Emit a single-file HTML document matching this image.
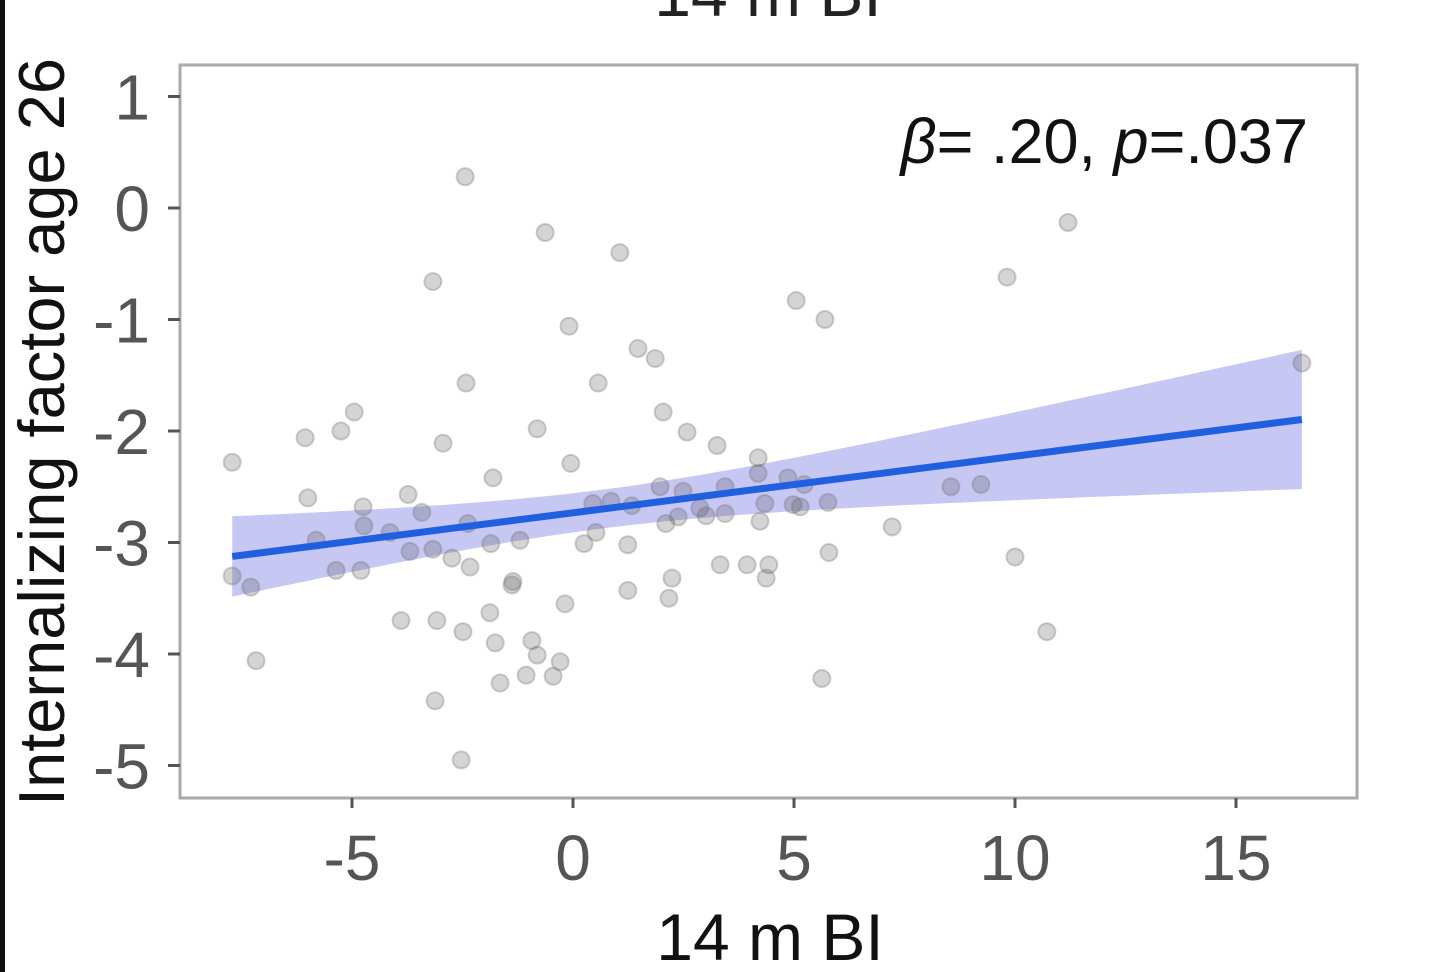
<!DOCTYPE html>
<html><head><meta charset="utf-8"><style>
html,body{margin:0;padding:0;background:#fff;}
svg{display:block;font-family:"Liberation Sans",sans-serif;}
</style></head><body>
<svg id="chart" width="1440" height="972" viewBox="0 0 1440 972">
<rect x="0" y="0" width="5" height="972" fill="#111"/>
<text x="768" y="16" font-size="66" text-anchor="middle" fill="#222">14 m BI</text>
<rect x="180" y="65" width="1177" height="733" fill="#fff" stroke="#aaa" stroke-width="3"/>
<g id="band"></g>
<g id="points"></g>
<g id="line"></g>
<g id="axes"></g>
<text x="1308" y="163" font-size="63" text-anchor="end" fill="#111"><tspan font-style="italic">β</tspan>= .20, <tspan font-style="italic">p</tspan>=.037</text>
<text x="770" y="960" font-size="66" text-anchor="middle" fill="#111">14 m BI</text>
<text transform="translate(64,432) rotate(-90)" font-size="65" text-anchor="middle" fill="#111">Internalizing factor age 26</text>
</svg>
<script>
const xVals=[-2.44,-0.63,1.06,-3.17,11.20,9.82,5.05,5.70,-0.09,1.47,1.86,0.57,-2.42,16.49,-4.95,-5.25,-6.06,-2.94,-0.81,2.04,2.58,3.26,-7.71,-0.05,-1.81,4.19,-6.00,-3.73,-4.75,-3.42,1.97,8.55,9.23,4.19,5.23,5.77,7.22,0.45,1.33,2.87,4.23,0.52,1.24,2.10,-5.81,-4.73,-4.14,-3.69,-3.17,-2.38,-1.86,-1.20,0.25,-2.74,-2.33,-5.36,-4.80,-7.71,-7.29,-7.17,-1.36,-1.38,-0.18,1.24,2.24,2.17,3.33,3.94,4.43,4.37,5.79,10.00,-3.89,-3.08,-2.49,-1.88,-1.76,-0.93,-0.81,-0.29,-1.65,-1.06,-0.45,-3.12,-2.53,10.72,5.63,3.44,2.38,3.01,4.86,4.98,5.14,4.34,2.49,0.86,3.44];
const yVals=[0.28,-0.22,-0.40,-0.66,-0.13,-0.62,-0.83,-1.00,-1.06,-1.26,-1.35,-1.57,-1.57,-1.39,-1.83,-2.00,-2.06,-2.11,-1.98,-1.83,-2.01,-2.13,-2.28,-2.29,-2.42,-2.24,-2.60,-2.57,-2.68,-2.73,-2.50,-2.50,-2.48,-2.38,-2.48,-2.64,-2.86,-2.65,-2.67,-2.69,-2.81,-2.91,-3.02,-2.83,-2.98,-2.85,-2.91,-3.08,-3.06,-2.83,-3.01,-2.98,-3.01,-3.14,-3.22,-3.25,-3.25,-3.30,-3.40,-4.06,-3.35,-3.38,-3.55,-3.43,-3.32,-3.50,-3.20,-3.20,-3.20,-3.32,-3.09,-3.13,-3.70,-3.70,-3.80,-3.63,-3.90,-3.88,-4.01,-4.07,-4.26,-4.19,-4.20,-4.42,-4.95,-3.80,-4.22,-2.74,-2.77,-2.76,-2.42,-2.66,-2.68,-2.65,-2.54,-2.63,-2.50];
const xTicks=[-5,0,5,10,15];
const yTicks=[1,0,-1,-2,-3,-4,-5];
const ns="http://www.w3.org/2000/svg";
const sx=v=>573+v*44.2;
const sy=v=>208-v*111.5;
function mk(tag,attrs,parent){const e=document.createElementNS(ns,tag);for(const k in attrs)e.setAttribute(k,attrs[k]);parent.appendChild(e);return e;}
const axes=document.getElementById('axes');
xTicks.forEach(t=>{
  const l=mk('line',{x1:sx(t),x2:sx(t),y1:798,y2:808,stroke:'#555','stroke-width':3},axes);
  
  
  const tx=mk('text',{x:sx(t),y:880,'font-size':64,'text-anchor':'middle',fill:'#555'},axes);
  tx.textContent=t;
  
  
});
yTicks.forEach(t=>{
  const l=mk('line',{x1:168,x2:180,y1:sy(t),y2:sy(t),stroke:'#555','stroke-width':3},axes);
  
  
  const tx=mk('text',{x:150,y:sy(t)+23,'font-size':64,'text-anchor':'end',fill:'#555'},axes);
  tx.textContent=t;
  
  
});
const n=xVals.length;
const mx=xVals.reduce((a,b)=>a+b,0)/n, my=yVals.reduce((a,b)=>a+b,0)/n;
let sxx=0,sxy=0;for(let i=0;i<n;i++){sxx+=(xVals[i]-mx)**2;sxy+=(xVals[i]-mx)*(yVals[i]-my);}
const b1=sxy/sxx,b0=my-b1*mx;
let sse=0;for(let i=0;i<n;i++){sse+=(yVals[i]-b0-b1*xVals[i])**2;}
const s=Math.sqrt(sse/(n-2));
const xmin=Math.min(...xVals),xmax=Math.max(...xVals);
const up=[],lo=[];
for(let k=0;k<=60;k++){const x=xmin+(xmax-xmin)*k/60;const se=1.75*s*Math.sqrt(1/n+(x-mx)**2/sxx);const y=b0+b1*x;up.push(sx(x)+','+sy(y+se));lo.unshift(sx(x)+','+sy(y-se));}
const band=mk('polygon',{points:up.concat(lo).join(' '),fill:'#b4b4f0','fill-opacity':0.75},document.getElementById('band'));


const pts=document.getElementById('points');
for(let i=0;i<n;i++){
  const c=mk('circle',{cx:sx(xVals[i]),cy:sy(yVals[i]),r:8.5,fill:'#555','fill-opacity':0.25,stroke:'#777','stroke-opacity':0.35,'stroke-width':2},pts);
  
  
}
const ln=mk('line',{x1:sx(xmin),y1:sy(b0+b1*xmin),x2:sx(xmax),y2:sy(b0+b1*xmax),stroke:'#1f5fe0','stroke-width':7},document.getElementById('line'));


</script>
</body></html>
